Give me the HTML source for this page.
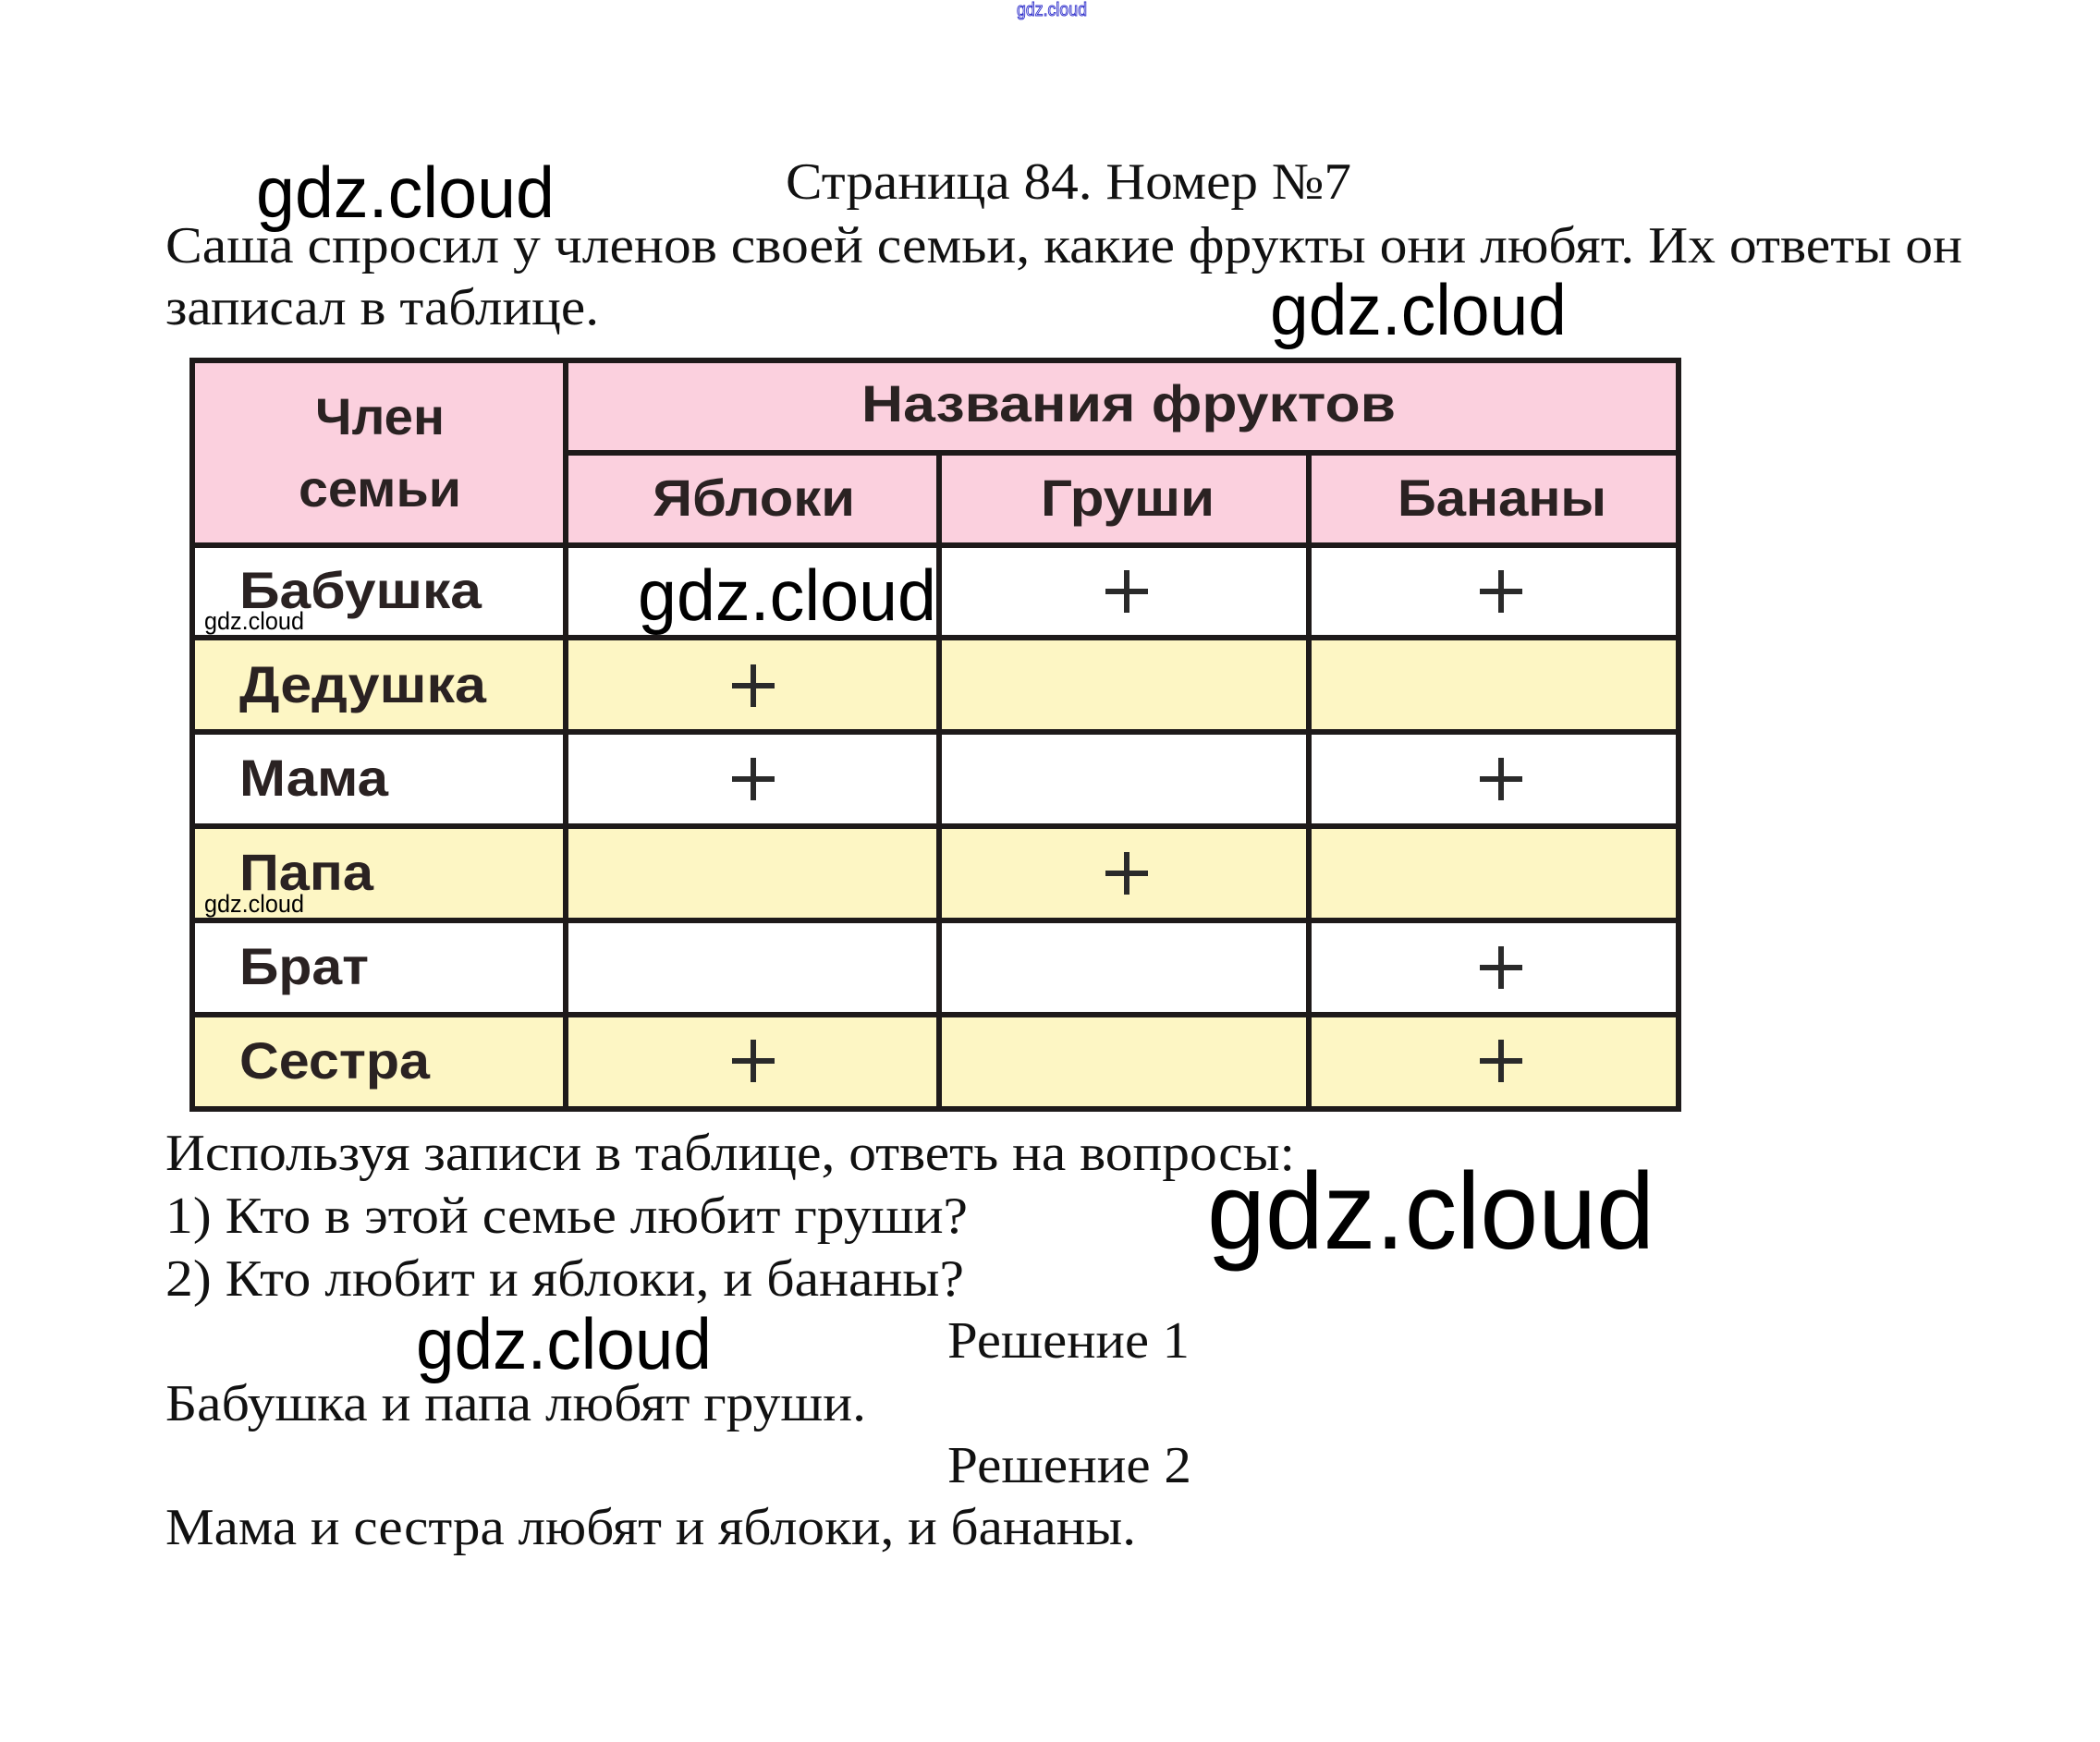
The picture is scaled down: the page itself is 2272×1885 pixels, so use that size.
<!DOCTYPE html>
<html><head><meta charset="utf-8"><style>
html,body{margin:0;padding:0;background:#fff;width:2272px;height:1885px;overflow:hidden}
svg{display:block}
.t{font-family:"Liberation Serif",serif;font-size:56px;fill:#111}
.w{font-family:"Liberation Sans",sans-serif;fill:#000}
.c{font-family:"Liberation Sans",sans-serif;font-size:56px;fill:#2a2222;font-weight:bold}
</style></head><body>
<svg width="2272" height="1885" viewBox="0 0 2272 1885" xmlns="http://www.w3.org/2000/svg">
<text x="1100" y="17" font-family="Liberation Sans,sans-serif" font-size="20" fill="none" stroke="#3333cc" stroke-width="1" textLength="76" lengthAdjust="spacingAndGlyphs">gdz.cloud</text>

<rect x="208" y="390" width="1608" height="200" fill="#fbd0de"/>
<rect x="208" y="690" width="1608" height="102" fill="#fdf6c4"/>
<rect x="208" y="894" width="1608" height="102" fill="#fdf6c4"/>
<rect x="208" y="1098" width="1608" height="102" fill="#fdf6c4"/>
<g stroke="#1e1a1a" stroke-width="6" fill="none">
<rect x="208" y="390" width="1608" height="810"/>
<line x1="612" y1="390" x2="612" y2="1200"/>
<line x1="1016" y1="490" x2="1016" y2="1200"/>
<line x1="1416" y1="490" x2="1416" y2="1200"/>
<line x1="612" y1="490" x2="1816" y2="490"/>
<line x1="208" y1="590" x2="1816" y2="590"/>
<line x1="208" y1="690" x2="1816" y2="690"/>
<line x1="208" y1="792" x2="1816" y2="792"/>
<line x1="208" y1="894" x2="1816" y2="894"/>
<line x1="208" y1="996" x2="1816" y2="996"/>
<line x1="208" y1="1098" x2="1816" y2="1098"/>
</g>
<text class="c" x="411" y="470" text-anchor="middle" textLength="140" lengthAdjust="spacingAndGlyphs">Член</text>
<text class="c" x="411" y="548" text-anchor="middle" textLength="176" lengthAdjust="spacingAndGlyphs">семьи</text>
<text class="c" x="932" y="456" textLength="578" lengthAdjust="spacingAndGlyphs">Названия  фруктов</text>
<text class="c" x="706" y="558" textLength="219" lengthAdjust="spacingAndGlyphs">Яблоки</text>
<text class="c" x="1126" y="558" textLength="188" lengthAdjust="spacingAndGlyphs">Груши</text>
<text class="c" x="1512" y="558" textLength="226" lengthAdjust="spacingAndGlyphs">Бананы</text>
<text class="c" x="259" y="658" textLength="262" lengthAdjust="spacingAndGlyphs">Бабушка</text>
<text class="c" x="259" y="760" textLength="267" lengthAdjust="spacingAndGlyphs">Дедушка</text>
<text class="c" x="259" y="861" textLength="161" lengthAdjust="spacingAndGlyphs">Мама</text>
<text class="c" x="259" y="963" textLength="145" lengthAdjust="spacingAndGlyphs">Папа</text>
<text class="c" x="259" y="1065" textLength="140" lengthAdjust="spacingAndGlyphs">Брат</text>
<text class="c" x="259" y="1167" textLength="206" lengthAdjust="spacingAndGlyphs">Сестра</text>
<g stroke="#2a2a2a" stroke-width="6">
<line x1="1196" y1="640" x2="1242" y2="640"/><line x1="1219" y1="617" x2="1219" y2="663"/>
<line x1="1601" y1="640" x2="1647" y2="640"/><line x1="1624" y1="617" x2="1624" y2="663"/>
<line x1="792" y1="742" x2="838" y2="742"/><line x1="815" y1="719" x2="815" y2="765"/>
<line x1="792" y1="843" x2="838" y2="843"/><line x1="815" y1="820" x2="815" y2="866"/>
<line x1="1601" y1="843" x2="1647" y2="843"/><line x1="1624" y1="820" x2="1624" y2="866"/>
<line x1="1196" y1="945" x2="1242" y2="945"/><line x1="1219" y1="922" x2="1219" y2="968"/>
<line x1="1601" y1="1047" x2="1647" y2="1047"/><line x1="1624" y1="1024" x2="1624" y2="1070"/>
<line x1="792" y1="1148" x2="838" y2="1148"/><line x1="815" y1="1125" x2="815" y2="1171"/>
<line x1="1601" y1="1148" x2="1647" y2="1148"/><line x1="1624" y1="1125" x2="1624" y2="1171"/>
</g>

<text class="t" x="850" y="215" textLength="612" lengthAdjust="spacingAndGlyphs">Страница 84. Номер №7</text>
<text class="t" x="179" y="284" textLength="1944" lengthAdjust="spacingAndGlyphs">Саша спросил у членов своей семьи, какие фрукты они любят. Их ответы он</text>
<text class="t" x="179" y="351" textLength="469" lengthAdjust="spacingAndGlyphs">записал в таблице.</text>
<text class="t" x="179" y="1266" textLength="1222" lengthAdjust="spacingAndGlyphs">Используя записи в таблице, ответь на вопросы:</text>
<text class="t" x="179" y="1334" textLength="868" lengthAdjust="spacingAndGlyphs">1) Кто в этой семье любит груши?</text>
<text class="t" x="179" y="1402" textLength="864" lengthAdjust="spacingAndGlyphs">2) Кто любит и яблоки, и бананы?</text>
<text class="t" x="1025" y="1469" textLength="262" lengthAdjust="spacingAndGlyphs">Решение 1</text>
<text class="t" x="179" y="1537" textLength="758" lengthAdjust="spacingAndGlyphs">Бабушка и папа любят груши.</text>
<text class="t" x="1025" y="1604" textLength="264" lengthAdjust="spacingAndGlyphs">Решение 2</text>
<text class="t" x="179" y="1671" textLength="1050" lengthAdjust="spacingAndGlyphs">Мама и сестра любят и яблоки, и бананы.</text>

<text class="w" x="277" y="235" font-size="78" textLength="323" lengthAdjust="spacingAndGlyphs">gdz.cloud</text>
<text class="w" x="1374" y="362" font-size="78" textLength="321" lengthAdjust="spacingAndGlyphs">gdz.cloud</text>
<text class="w" x="690" y="671" font-size="78" textLength="323" lengthAdjust="spacingAndGlyphs">gdz.cloud</text>
<text class="w" x="1306" y="1351" font-size="118" textLength="484" lengthAdjust="spacingAndGlyphs">gdz.cloud</text>
<text class="w" x="450" y="1481" font-size="78" textLength="320" lengthAdjust="spacingAndGlyphs">gdz.cloud</text>
<text class="w" x="221" y="681" font-size="27" textLength="108" lengthAdjust="spacingAndGlyphs">gdz.cloud</text>
<text class="w" x="221" y="987" font-size="27" textLength="108" lengthAdjust="spacingAndGlyphs">gdz.cloud</text>
</svg>
</body></html>
